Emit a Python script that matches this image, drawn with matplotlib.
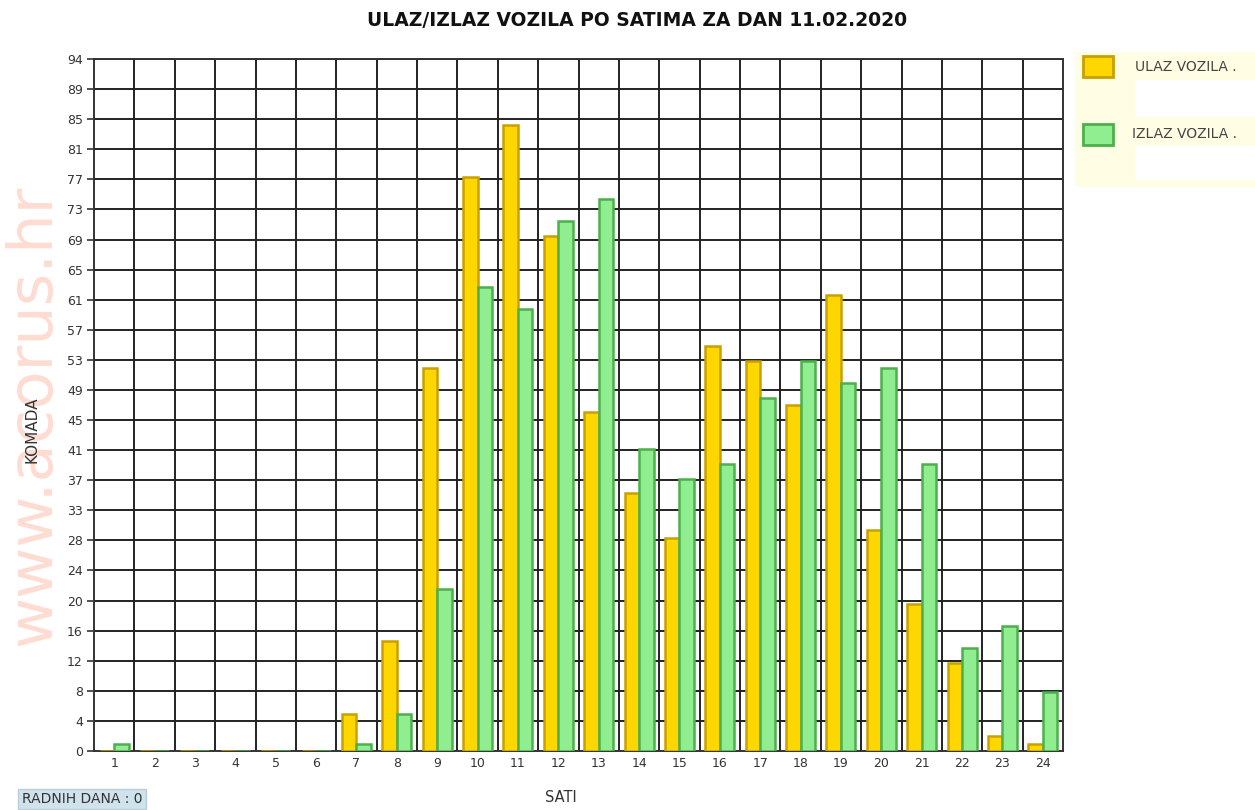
import matplotlib.pyplot as plt
import matplotlib.patches as mpatches
import numpy as np

# hours of the day
hours = list(range(1, 25))
ulaz = [0, 0, 0, 0, 0, 0, 5, 15, 52, 78, 85, 70, 46, 35, 29, 55, 53, 47, 62, 30, 20, 12, 2, 1]
izlaz = [1, 0, 0, 0, 0, 0, 1, 5, 22, 63, 60, 72, 75, 41, 37, 39, 48, 53, 50, 52, 39, 14, 17, 8]
y_labels = ["0", "4", "8", "12", "16", "20", "24", "28", "33", "37", "41", "45",
            "49", "53", "57", "61", "65", "69", "73", "77", "81", "85", "89", "94"]
y_max = 94

W, H = 1255, 810
fig = plt.figure(figsize=(W / 100, H / 100), dpi=100)

# watermark, baseline on the right, reading bottom to top
fig.text(50 / W, 1 - 415 / H, "www.acorus.hr", rotation=90, rotation_mode="anchor",
         ha="center", va="baseline", fontsize=45, color="#ffdcd2",
         family="DejaVu Sans", zorder=0)

ax = fig.add_axes([94 / W, 1 - 751 / H, (1063 - 94) / W, (751 - 59) / H])
ax.patch.set_alpha(0)

x = np.array(hours)
bw = 0.36
ax.bar(x - 0.18, ulaz, width=bw, color="#ffd700", edgecolor="#c9a000", linewidth=1.8, zorder=3)
ax.bar(x + 0.18, izlaz, width=bw, color="#90ee90", edgecolor="#4cb04c", linewidth=1.8, zorder=3)

ax.set_xlim(0.5, 24.5)
ax.set_ylim(0, y_max)

yt = np.linspace(0, y_max, len(y_labels))
ax.set_yticks(yt)
ax.set_yticklabels(y_labels)
ax.set_xticks(hours)
ax.set_xticklabels([str(h) for h in hours])

for y in yt[1:]:
    ax.axhline(y, color="#222222", linewidth=1.4, zorder=1)
for xv in np.arange(1.5, 24.5, 1):
    ax.axvline(xv, color="#222222", linewidth=1.4, zorder=1)

for s in ax.spines.values():
    s.set_color("#333333")
    s.set_linewidth(1.4)

ax.tick_params(axis="y", length=5, width=1.2, color="#333333", labelsize=9, labelcolor="#333333", pad=3)
ax.tick_params(axis="x", length=0, labelsize=9, labelcolor="#333333", pad=4)

fig.text(637 / W, 1 - 20 / H, "ULAZ/IZLAZ VOZILA PO SATIMA ZA DAN 11.02.2020",
         ha="center", va="center", fontsize=13.5, fontweight="bold", color="#111111")
fig.text(32 / W, 1 - 430 / H, "KOMADA", rotation=90, ha="center", va="center",
         fontsize=11, color="#333333")
fig.text(561 / W, 1 - 797 / H, "SATI", ha="center", va="center", fontsize=10.5, color="#333333")
fig.text(82 / W, 1 - 799 / H, "RADNIH DANA : 0", ha="center", va="center", fontsize=10,
         color="#333333",
         bbox=dict(boxstyle="square,pad=0.25", facecolor="#d0e3ec", edgecolor="#b8cfda"))

# legend box
def fig_rect(x0, y0, x1, y1, **kw):
    r = mpatches.Rectangle((x0 / W, 1 - y1 / H), (x1 - x0) / W, (y1 - y0) / H,
                           transform=fig.transFigure, **kw)
    fig.patches.append(r)

fig_rect(1075, 52, 1255, 187, facecolor="#fffde3", edgecolor="none")
fig_rect(1135, 80, 1255, 117, facecolor="white", edgecolor="none")
fig_rect(1135, 146, 1255, 180, facecolor="white", edgecolor="none")
fig_rect(1083, 56, 1113, 77, facecolor="#ffd700", edgecolor="#c9a000", linewidth=2)
fig_rect(1083, 124, 1113, 145, facecolor="#90ee90", edgecolor="#4cb04c", linewidth=2)
fig.text(1135 / W, 1 - 67 / H, "ULAZ VOZILA .", ha="left", va="center", fontsize=10, color="#444444")
fig.text(1132 / W, 1 - 134 / H, "IZLAZ VOZILA .", ha="left", va="center", fontsize=10, color="#444444")

fig.savefig("out.png", dpi=100)
